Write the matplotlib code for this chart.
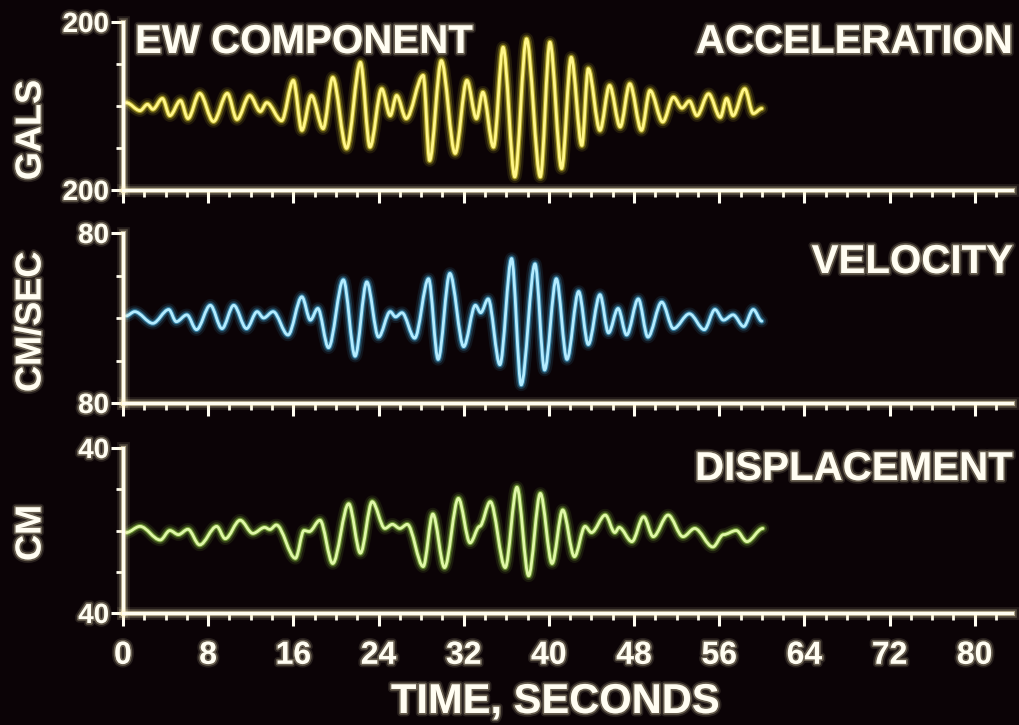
import matplotlib
matplotlib.use("Agg")
import matplotlib.pyplot as plt
import matplotlib.patheffects as pe
from matplotlib.path import Path
from matplotlib.patches import PathPatch
from matplotlib.ticker import MultipleLocator, FixedLocator, FuncFormatter

# peaks and troughs: time (s), value
acc_t = [0.3, 1.6, 2.3, 2.8, 3.7, 4.4, 5.4, 6.1, 7.2, 8.5, 9.8, 10.7, 11.9, 12.9, 13.5,
         14.9, 16.0, 16.8, 17.7, 18.8, 19.7, 21.0, 22.3, 23.2, 24.3, 25.1, 25.7, 26.6,
         28.2, 28.8, 29.9, 31.2, 32.3, 33.2, 33.8, 34.8, 35.7, 36.8, 37.9, 39.2, 40.1,
         41.2, 42.1, 43.1, 43.7, 44.8, 45.7, 46.7, 47.6, 48.7, 49.5, 50.7, 51.7, 52.5,
         53.2, 53.9, 55.0, 56.1, 56.7, 57.3, 58.4, 59.2, 60.0]
acc_v = [8, -11, 4, -8, 18, -23, 13, -30, 30, -37, 30, -32, 25, -13, 8,
         -35, 61, -58, 25, -54, 68, -101, 104, -98, 41, -23, 25, -30,
         73, -130, 108, -113, 61, -30, 33, -98, 140, -169, 160, -169, 152,
         -149, 116, -94, 89, -58, 49, -50, 53, -58, 37, -38, 21, -5,
         12, -23, 29, -27, 18, -23, 41, -18, -6]

vel_t = [0.3, 1.1, 2.8, 4.3, 5.0, 6.0, 6.9, 8.2, 9.3, 10.4, 11.6, 12.6, 13.2, 14.1, 15.5,
         16.8, 17.6, 18.3, 19.3, 20.7, 21.8, 22.9, 24.0, 25.1, 25.6, 26.2, 27.4, 28.7,
         29.6, 30.7, 32.0, 33.1, 33.6, 34.3, 35.4, 36.5, 37.4, 38.7, 39.6, 40.7, 41.7,
         42.8, 43.7, 44.8, 45.6, 46.5, 47.3, 48.4, 49.3, 50.6, 51.7, 53.2, 54.6, 55.6,
         56.4, 57.3, 58.3, 59.2, 60.0]
vel_v = [2, 6, -5, 8, -3.5, 3, -11, 12, -10, 12, -10, 6, 0, 6, -16,
         20, -2, 9, -28, 36, -36, 34, -18, 6, 1, 5, -19, 37,
         -39, 42, -27, 12, 5, 18, -44, 56, -63, 51, -49, 37, -39,
         25, -25, 22, -14, 9, -16, 18, -18, 15, -10, 4, -11, 8,
         -2, 3, -8, 8, -3]

disp_t = [0.3, 1.6, 3.5, 4.4, 5.2, 6.1, 7.2, 8.8, 9.6, 11.0, 12.2, 13.3, 13.8, 14.4,
          16.2, 17.0, 17.5, 18.5, 19.7, 21.2, 22.3, 23.4, 24.6, 25.3, 26.0, 26.7,
          28.2, 29.1, 30.2, 31.5, 32.6, 33.5, 34.5, 35.9, 37.0, 38.1, 39.2, 40.3,
          41.3, 42.4, 43.4, 44.0, 45.3, 46.2, 46.6, 47.8, 48.9, 49.8, 51.2, 52.6,
          53.7, 55.4, 56.4, 57.6, 58.6, 60.1]
disp_v = [-1, 2, -4.6, 0, -2, 0.6, -7, 2, -4, 5, -1.4, 1.5, 0.5, 2.7,
          -13.5, 0, -0.5, 5, -16, 13, -11, 14, 1, 3, 1, 3,
          -17.5, 8, -18, 15.6, -6, 2, 14, -18, 21, -22, 18, -16,
          10, -12.7, 2, -1, 7.5, -1, 1.5, -5.4, 6.7, -3, 7.5, -3,
          1, -8, -2, 0, -5.4, 1]

panel_names = ["ACCELERATION", "VELOCITY", "DISPLACEMENT"]
unit_labels = ["GALS", "CM/SEC", "CM"]
y_limits = [200, 80, 40]
x_ticks = [0, 8, 16, 24, 32, 40, 48, 56, 64, 72, 80]

BG = "#0b0306"
FG = "#fffdf2"
HALO = "#fff4c8"
FONT = "Liberation Sans"


def glow(color, width):
    # soft phosphor halo under a stroke
    return [pe.Stroke(linewidth=width + 7, foreground=color, alpha=0.10),
            pe.Stroke(linewidth=width + 4, foreground=color, alpha=0.22),
            pe.Stroke(linewidth=width + 1.5, foreground=color, alpha=0.55),
            pe.Normal()]


def text_glow():
    return [pe.Stroke(linewidth=5, foreground=HALO, alpha=0.12),
            pe.Stroke(linewidth=2.5, foreground=HALO, alpha=0.30),
            pe.Normal()]


def trace_path(t, v):
    # smooth curve through the extrema, flat at each peak
    verts = [(t[0], v[0])]
    codes = [Path.MOVETO]
    for i in range(1, len(t)):
        dt = t[i] - t[i - 1]
        verts += [(t[i - 1] + dt / 3, v[i - 1]), (t[i] - dt / 3, v[i]), (t[i], v[i])]
        codes += [Path.CURVE4] * 3
    return Path(verts, codes)


fig = plt.figure(figsize=(10.19, 7.25), dpi=100)
fig.patch.set_facecolor(BG)

# axes boxes in pixels: (top, bottom)
W, H = 1019, 725
left_px, right_px = 123, 1012
boxes = [(22, 190), (233, 403), (448, 613)]
series = [(acc_t, acc_v, "#f3e530", "#fff68a"),
          (vel_t, vel_v, "#48b8ea", "#b4ecff"),
          (disp_t, disp_v, "#9ad848", "#e0f8a8")]

for i, (top, bot) in enumerate(boxes):
    ax = fig.add_axes([left_px / W, 1 - bot / H, (right_px - left_px) / W, (bot - top) / H])
    ax.set_facecolor(BG)
    lim = y_limits[i]
    ax.set_xlim(0, 83.5)
    ax.set_ylim(-lim, lim)

    for side in ["top", "right"]:
        ax.spines[side].set_visible(False)
    for side in ["left", "bottom"]:
        ax.spines[side].set_color(FG)
        ax.spines[side].set_linewidth(2.2)
        ax.spines[side].set_path_effects(glow(HALO, 2.2))

    ax.xaxis.set_major_locator(FixedLocator(x_ticks))
    ax.xaxis.set_minor_locator(MultipleLocator(2))
    ax.yaxis.set_major_locator(FixedLocator([-lim, lim]))
    ax.yaxis.set_minor_locator(FixedLocator([-lim / 2, 0, lim / 2]))
    ax.yaxis.set_major_formatter(FuncFormatter(lambda val, pos: f"{abs(val):.0f}"))

    ax.tick_params(which="major", length=9, width=2.2, color=FG, direction="out")
    ax.tick_params(which="minor", length=5, width=2.0, color=FG, direction="out")
    ax.tick_params(axis="y", labelsize=20, labelcolor=FG, pad=1)
    ax.tick_params(axis="x", labelsize=23, labelcolor=FG, pad=11,
                   labelbottom=(i == 2))
    for lbl in ax.get_xticklabels() + ax.get_yticklabels():
        lbl.set_fontfamily(FONT)
        lbl.set_fontweight("bold")
        lbl.set_path_effects(text_glow())

    t, v, halo, core = series[i]
    patch = PathPatch(trace_path(t, v), fill=False, edgecolor=core, linewidth=2.0,
                      transform=ax.transData, capstyle="round", joinstyle="round")
    patch.set_path_effects(glow(halo, 2.0))
    ax.add_patch(patch)

# labels
text_kw = dict(color=FG, fontfamily=FONT, fontweight="bold", path_effects=text_glow())
fig.text(135 / W, 1 - 42 / H, "EW COMPONENT", ha="left", va="center", fontsize=29, **text_kw)
name_y = [42, 262, 469]
for name, y in zip(panel_names, name_y):
    fig.text(1013 / W, 1 - y / H, name, ha="right", va="center", fontsize=29, **text_kw)
unit_y = [130, 322, 533]
for unit, y in zip(unit_labels, unit_y):
    fig.text(31 / W, 1 - y / H, unit, ha="center", va="center", rotation=90,
             fontsize=26, **text_kw)
fig.text(555 / W, 1 - 702 / H, "TIME, SECONDS", ha="center", va="center", fontsize=30, **text_kw)

fig.savefig("out.png", dpi=100, facecolor=BG)
